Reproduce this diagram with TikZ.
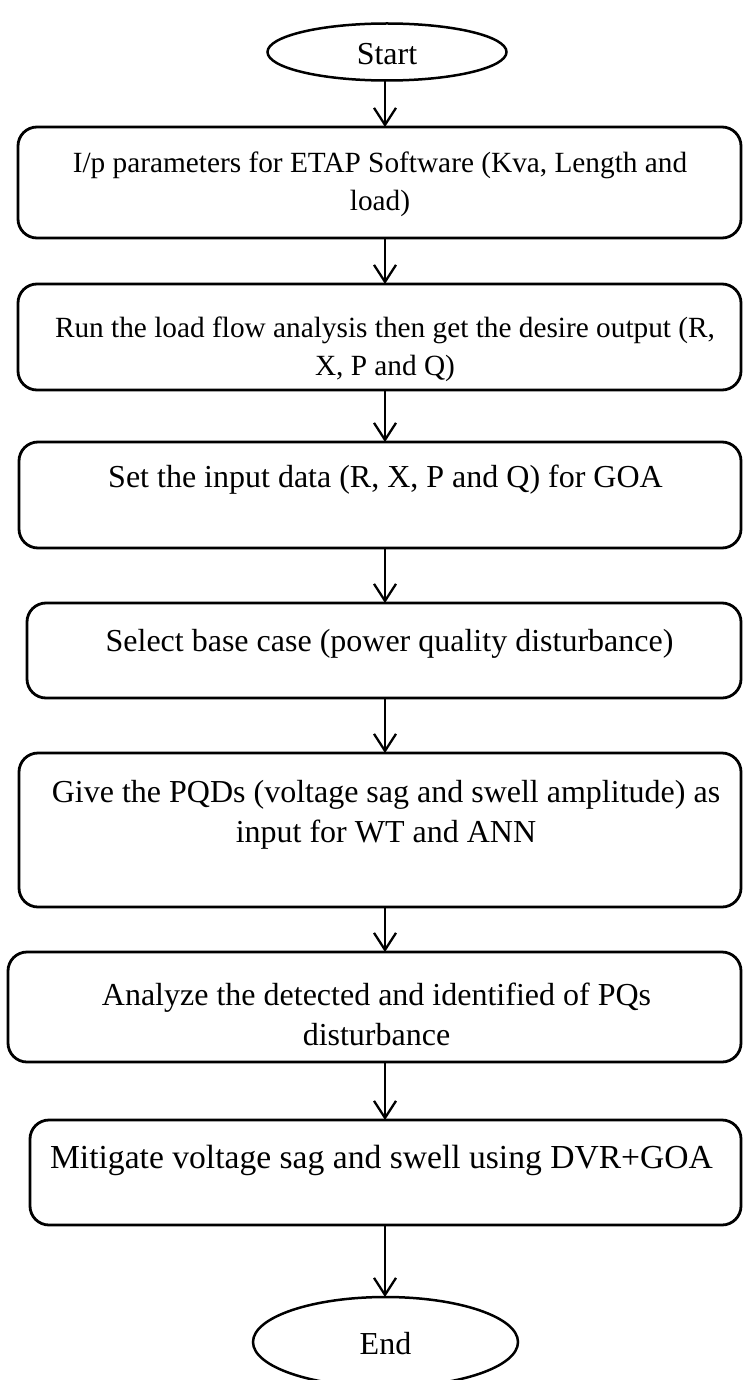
\documentclass[tikz,border=0pt]{standalone}
\usepackage{fontspec}
\setmainfont{Liberation Serif}
\usetikzlibrary{arrows.meta,shapes.geometric}
\begin{document}
\begin{tikzpicture}[x=1pt,y=-1pt,
  box/.style={draw,line width=2.8pt,rounded corners=19pt,inner sep=0pt,outer sep=0pt},
  term/.style={draw,ellipse,line width=2.5pt,inner sep=0pt,outer sep=0pt},
  txt/.style={align=center,inner sep=0pt,font=\fontsize{29.3}{38}\selectfont},
  txtb/.style={align=center,inner sep=0pt,font=\fontsize{32}{40}\selectfont},
  txtc/.style={align=center,inner sep=0pt,font=\fontsize{33.6}{41}\selectfont},
  arr/.style={line width=2.3pt,-{Straight Barb[length=17pt,width=22pt]}}]
\useasboundingbox (0,0) rectangle (743,1380);
\fill[white] (0,0) rectangle (743,1380);
% terminals
\node[term,minimum width=239pt,minimum height=57pt] (start) at (387,52) {};
\node[txtb] (ts) at (387,54) {Start};
\node[term,minimum width=265pt,minimum height=90pt] (end) at (385.5,1342) {};
\node[txtb] (te) at (385.5,1344) {End};
% boxes
\node[box,minimum width=723pt,minimum height=111pt] (b1) at (379.5,182.5) {};
\node[box,minimum width=723pt,minimum height=106pt] (b2) at (379.5,337) {};
\node[box,minimum width=722pt,minimum height=106pt] (b3) at (380,495) {};
\node[box,minimum width=714pt,minimum height=95pt] (b4) at (384,650.5) {};
\node[box,minimum width=722pt,minimum height=154pt] (b5) at (380,830) {};
\node[box,minimum width=733pt,minimum height=110pt] (b6) at (374.5,1007) {};
\node[box,minimum width=711pt,minimum height=105pt] (b7) at (385.5,1172.5) {};
% texts
\node[txt] (t1) at (380,184) {I/p parameters for ETAP Software (Kva, Length and\\load)};
\node[txt] (t2) at (385,349) {Run the load flow analysis then get the desire output (R,\\X, P and Q)};
\node[txtb] (t3) at (385.5,480) {Set the input data (R, X, P and Q) for GOA};
\node[txtb] (t4) at (389.5,644) {Select base case (power quality disturbance)};
\node[txtb] (t5) at (386,815) {Give the PQDs (voltage sag and swell amplitude) as\\input for WT and ANN};
\node[txtb] (t6) at (376.5,1014) {Analyze the detected and identified of PQs\\disturbance};
\node[txtc] (t7) at (381.5,1160) {Mitigate voltage sag and swell using DVR+GOA};
% connectors
\coordinate (cx) at (385,0);
\draw[arr] (start.south -| cx) -- (b1.north -| cx);
\draw[arr] (b1.south -| cx) -- (b2.north -| cx);
\draw[arr] (b2.south -| cx) -- (b3.north -| cx);
\draw[arr] (b3.south -| cx) -- (b4.north -| cx);
\draw[arr] (b4.south -| cx) -- (b5.north -| cx);
\draw[arr] (b5.south -| cx) -- (b6.north -| cx);
\draw[arr] (b6.south -| cx) -- (b7.north -| cx);
\draw[arr] (b7.south -| cx) -- (end.north -| cx);
\end{tikzpicture}
\end{document}
